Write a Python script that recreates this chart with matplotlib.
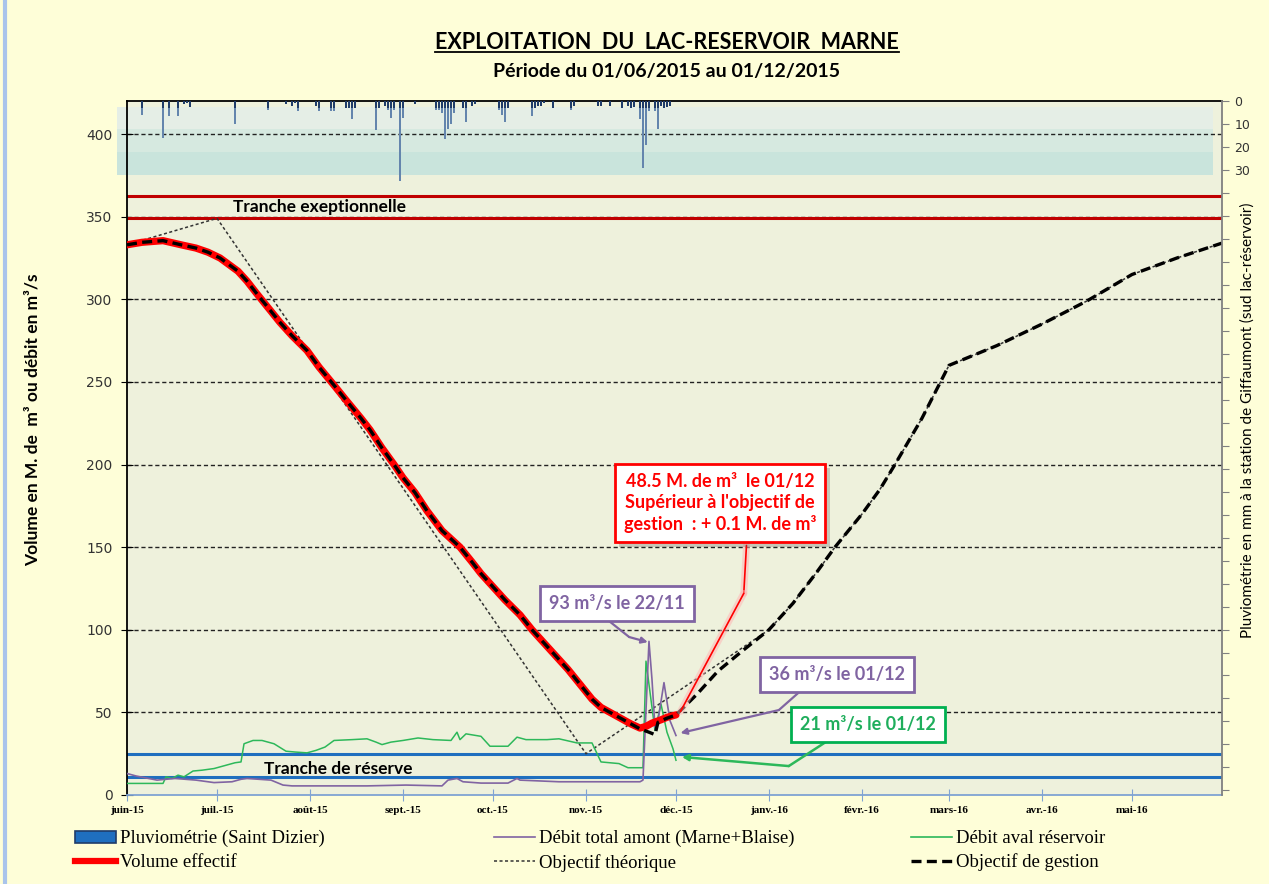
import numpy as np
import pandas as pd
import matplotlib
matplotlib.use("Agg")
import matplotlib.pyplot as plt
import matplotlib.dates as mdates
import matplotlib.patheffects as pe
from matplotlib.lines import Line2D
from matplotlib.patches import Patch, Rectangle
from matplotlib.transforms import blended_transform_factory

DEBUT = pd.Timestamp("2015-06-01")
FIN = pd.Timestamp("2016-05-31")

# ---- données (jours comptés depuis le 01/06/2015) ----
# pluviométrie journalière (mm)
pluie_jour = [5, 12, 14, 17, 19, 20, 21, 36, 47, 53, 55, 56, 57, 63, 64, 68, 69,
              73, 74, 75, 76, 83, 84, 86, 87, 88, 89, 91, 92, 96, 103, 104, 105,
              106, 107, 108, 109, 112, 113, 115, 116, 124, 125, 126, 127, 135,
              136, 137, 138, 139, 142, 148, 149, 157, 158, 161, 165, 167, 168,
              169, 171, 172, 173, 174, 176, 177, 178, 179, 180, 181]
pluie_mm = [6, 16, 6.5, 6.5, 1.5, 1, 2.5, 10, 4, 1.5, 2, 1, 4.5, 2, 4.5, 4.5, 4.5,
            3, 3, 8, 3, 12.5, 3, 2, 4, 7.5, 4, 35, 7.5, 1.5, 4, 4, 5,
            16.5, 12, 10, 5, 3, 9, 2, 1.5, 4, 6, 9, 3, 6.5,
            3, 2, 2, 1, 3, 4, 2, 2, 2, 2, 3, 2, 3,
            2.5, 8, 29, 19, 4.5, 4.5, 12, 2, 3, 2.5, 2]

# volume effectif (M. de m3)
vol_jour = [0, 5, 12, 18, 23, 27, 31, 34, 37, 40, 43, 47, 51, 55, 60, 64, 69, 73,
            78, 81, 85, 89, 92, 96, 100, 105, 108, 111, 115, 118, 122, 126, 131,
            135, 139, 143, 147, 151, 155, 158, 161, 164, 168, 171, 173, 175, 178,
            180, 183]
vol_val = [333, 334.5, 335.5, 333, 331, 328.5, 325, 321, 317, 311, 304, 295, 286,
           278, 269, 259, 248, 239, 228, 221, 210, 200, 192, 183, 172, 160, 155,
           150, 141, 134, 126, 118, 109, 100, 92, 84, 76, 67, 58, 53, 50, 47, 43,
           40.5, 41.5, 43.5, 45.5, 47, 48.5]

# objectif de gestion
gest_jour = [0, 5, 12, 18, 23, 27, 31, 34, 37, 40, 43, 47, 51, 55, 60, 64, 69, 73,
             78, 81, 85, 89, 92, 96, 100, 105, 108, 111, 115, 118, 122, 126, 131,
             135, 139, 143, 147, 151, 155, 158, 161, 164, 168, 171, 174, 176, 177,
             180, 183, 190, 197, 205, 214, 222, 230, 236, 245, 251, 256, 265, 274,
             290, 305, 320, 335, 350, 365]
gest_val = [333, 334.5, 335.5, 333, 331, 328.5, 325, 321, 317, 311, 304, 295, 286,
            278, 269, 259, 248, 239, 228, 221, 210, 200, 192, 183, 172, 160, 155,
            150, 141, 134, 126, 118, 109, 100, 92, 84, 76, 67, 58, 53, 50, 47, 43,
            40, 38, 36.5, 44, 46.5, 48.4, 61, 75, 87, 100, 116, 135, 150, 170, 185,
            200, 228, 260, 272, 285, 299, 315, 325, 334]

# objectif théorique
theo_jour = [0, 30, 153, 214, 222, 230, 236, 245, 251, 256, 265, 274, 290, 305,
             320, 335, 350, 365]
theo_val = [333, 349, 25, 100, 116, 135, 150, 170, 185, 200, 228, 260, 272, 285,
            299, 315, 325, 334]

# débit total amont (m3/s)
amont_jour = [0, 3, 10, 16, 23, 29, 35, 38, 40, 48, 52, 55, 80, 93, 105, 107, 110,
              112, 118, 127, 130, 131, 144, 171, 172, 174, 175, 176, 177, 179,
              181, 183]
amont_val = [13, 11.5, 9, 10, 9, 7.5, 8, 9.5, 10, 9, 6, 5.5, 5.5, 6, 5.5, 9, 10,
             8, 7.2, 7.2, 10, 9, 8, 8, 9, 93, 70, 41, 45, 68, 45, 36]

# débit aval réservoir (m3/s)
aval_jour = [0, 12, 13, 15, 17, 19, 22, 25, 29, 33, 36, 38, 39, 42, 45, 49, 53,
             56, 60, 63, 66, 69, 75, 80, 83, 85, 88, 92, 97, 102, 108, 110, 111,
             113, 118, 121, 127, 130, 133, 140, 144, 150, 155, 158, 164, 167,
             172, 173, 175, 176, 178, 180, 182, 183]
aval_val = [7, 7, 11, 10, 12, 11, 14.5, 15, 16, 18, 19.5, 20, 31, 33, 33, 31,
            26.5, 26, 25.5, 27, 29, 33, 33.5, 34, 32, 30.5, 32, 33, 34.5, 33.5,
            33, 38, 33.5, 37, 35.5, 29.5, 29.5, 35, 33.5, 33.5, 34, 31.5, 31.5,
            20, 19, 16.5, 16.5, 81, 53, 39, 55, 38, 28, 21]

# seuils
tranche_exc = [362.5, 349.5]
tranche_res = [25, 11]

mois_labels = ["juin-15", "juil.-15", "août-15", "sept.-15", "oct.-15", "nov.-15",
               "déc.-15", "janv.-16", "févr.-16", "mars-16", "avr.-16", "mai-16"]


def to_x(jours):
    return mdates.date2num(DEBUT) + np.asarray(jours, dtype=float)


FOND_FIG = "#fefed8"
FOND_AX = "#eef1dc"
VIOLET = "#8064a2"
VERT = "#2db85a"
BLEU = "#1f6fbf"
ROUGE_SEUIL = "#c00000"
SANS = ["Lato", "DejaVu Sans"]
SERIF = ["Liberation Serif", "DejaVu Serif"]

fig = plt.figure(figsize=(12.69, 8.84), dpi=100, facecolor=FOND_FIG)
ax = fig.add_axes([0.1001, 0.1007, 0.8628, 0.7850], facecolor=FOND_AX)
ax2 = ax.twinx()

ax.set_xlim(mdates.date2num(DEBUT), mdates.date2num(FIN))
ax.set_ylim(0, 420)
ax2.set_ylim(302, 0)

# bandes de fond de la zone pluvio
trans = blended_transform_factory(ax.transAxes, ax.transData)
for y0, y1, c in [(375, 389, "#c9e4dc"), (389.3, 403, "#d6e9e0"), (403, 416.3, "#e5eee6")]:
    ax.add_patch(Rectangle((-0.009, y0), 1.001, y1 - y0, transform=trans,
                           facecolor=c, edgecolor="none", clip_on=False, zorder=0))

# grille
for g in range(50, 401, 50):
    ax.axhline(g, color="#222222", lw=1, ls=(0, (3, 2)), zorder=1)

# seuils
for v in tranche_exc:
    ax.axhline(v, color=ROUGE_SEUIL, lw=2.2, zorder=2)
for v in tranche_res:
    ax.axhline(v, color=BLEU, lw=2.2, zorder=2)

ax.text(to_x(64), 355.8, "Tranche exeptionnelle", fontsize=12.5, fontweight="bold",
        family=SANS, ha="center", va="center", zorder=3)
ax.text(to_x(70.5), 15.8, "Tranche de réserve", fontsize=12.5, fontweight="bold",
        family=SANS, ha="center", va="center", zorder=3)

# séries
ax.plot(to_x(theo_jour), theo_val, color="#333333", lw=1.1, ls=(0, (2, 1.6)), zorder=3)
ax.plot(to_x(aval_jour), aval_val, color=VERT, lw=1.1, zorder=3)
ax.plot(to_x(amont_jour), amont_val, color=VIOLET, lw=1.2, zorder=3)
ax.plot(to_x(vol_jour), vol_val, color="red", lw=5.2, solid_capstyle="round", zorder=4)
ax.plot(to_x(gest_jour), gest_val, color="black", lw=2.4, ls=(0, (3, 1.6)), zorder=5)

# pluviométrie (axe de droite inversé)
px = to_x(pluie_jour)
ax2.bar(px, pluie_mm, width=0.9, bottom=0, color="#6485ad", edgecolor="none",
        align="center", zorder=2)
ax2.bar(px, np.minimum(pluie_mm, 3), width=0.9, bottom=0, color="#1f3c69",
        edgecolor="none", align="center", zorder=3)

# axes
mois = pd.date_range("2015-06-01", "2016-05-01", freq="MS")
ax.set_xticks(mdates.date2num(mois))
ax.set_xticklabels(mois_labels, fontsize=8, fontweight="bold", family=SERIF)
ax.tick_params(axis="x", direction="inout", length=8, color="#7fa3d3", pad=4)
ax.set_yticks(range(0, 401, 50))
ax.tick_params(axis="y", direction="inout", length=9, color="black",
               labelsize=10, labelcolor="#333333", pad=6)
for lab in ax.get_yticklabels():
    lab.set_family("DejaVu Sans")

ax2.set_yticks(range(0, 301, 10))
ax2.set_yticklabels([str(t) if t <= 30 else "" for t in range(0, 301, 10)],
                    fontsize=9, color="#333333")
ax2.tick_params(axis="y", direction="out", length=5, color="#808080", pad=4)

for s in ["left", "top"]:
    ax.spines[s].set_color("black")
    ax.spines[s].set_linewidth(1.3)
ax.spines["bottom"].set_color("#7fa3d3")
ax.spines["bottom"].set_linewidth(1.3)
ax.spines["right"].set_visible(False)
for s in ["left", "top", "bottom"]:
    ax2.spines[s].set_visible(False)
ax2.spines["right"].set_color("#808080")
ax2.spines["right"].set_linewidth(1.3)

fig.text(0.026, 0.525, "Volume en M. de  m³ ou débit en m³/s", rotation=90,
         fontsize=12.5, fontweight="bold", family=SANS, ha="center", va="center")
fig.text(0.983, 0.525, "Pluviométrie en mm à la station de Giffaumont (sud lac-réservoir)",
         rotation=90, fontsize=11, family=SANS, ha="center", va="center")

# annotations
def boite(txt, jour, val, couleur, tcouleur, fs=13):
    t = ax.text(to_x(jour), val, txt, ha="center", va="center", fontsize=fs,
                fontweight="bold", family=SANS, color=tcouleur, zorder=8,
                linespacing=1.3,
                bbox=dict(boxstyle="square,pad=0.5", fc="white", ec=couleur, lw=2))
    return t


def trait(j1, v1, j2, v2, couleur, fleche=False, lw=1.6, glow=None):
    a = ax.annotate("", xy=(to_x(j2), v2), xytext=(to_x(j1), v1),
                    arrowprops=dict(arrowstyle="-|>" if fleche else "-",
                                    color=couleur, lw=lw, mutation_scale=9,
                                    shrinkA=0, shrinkB=0), zorder=7)
    if glow:
        a.arrow_patch.set_path_effects([pe.Stroke(linewidth=5, foreground=glow, alpha=0.5),
                                        pe.Normal()])


trait(206.5, 151, 205.6, 122, "red", lw=1.2, glow="#ffb3b3")
trait(205.6, 122, 184.5, 50.5, "red", lw=1.2, glow="#ffb3b3")
t_rouge = boite("48.5 M. de m³  le 01/12\nSupérieur à l'objectif de\ngestion  : + 0.1 M. de m³",
                197.7, 176.7, "red", "red")
t_rouge.get_bbox_patch().set_path_effects([pe.SimplePatchShadow(offset=(3, -3), alpha=0.25),
                                           pe.Normal()])

trait(159.5, 107, 167.4, 95.6, VIOLET)
trait(167.4, 95.6, 173.6, 92.5, VIOLET, fleche=True)
boite("93 m³/s le 22/11", 163.4, 116, VIOLET, VIOLET)

trait(225.6, 64.7, 217.3, 51.4, VIOLET)
trait(217.3, 51.4, 184.5, 37.5, VIOLET, fleche=True)
boite("36 m³/s le 01/12", 236.6, 73, VIOLET, VIOLET)

trait(234, 33.3, 220.6, 17.5, VERT, lw=1.8)
trait(220.6, 17.5, 185, 23, VERT, fleche=True, lw=1.8)
boite("21 m³/s le 01/12", 247, 42.4, "#00b050", "#1fae5c")

# titre
titre = fig.text(0.5256, 0.952, "EXPLOITATION  DU  LAC-RESERVOIR  MARNE", fontsize=15.5,
                 fontweight="bold", family=SANS, ha="center", va="center")
fig.text(0.5256, 0.919, "Période du 01/06/2015 au 01/12/2015", fontsize=14,
         fontweight="bold", family=SANS, ha="center", va="center")
fig.canvas.draw()
bb = titre.get_window_extent().transformed(fig.transFigure.inverted())
fig.add_artist(Line2D([bb.x0, bb.x1], [bb.y0 + 0.001, bb.y0 + 0.001], color="black", lw=1.3))

# bordure bleue à gauche
fig.add_artist(Line2D([0.004, 0.004], [0, 1], color="#a9c4eb", lw=3))

# légende
h_pluie = Patch(facecolor=BLEU, edgecolor="#1f3c69", lw=1.2)
h_vol = Line2D([], [], color="red", lw=4.5)
h_amont = Line2D([], [], color=VIOLET, lw=1.2)
h_theo = Line2D([], [], color="#333333", lw=1.1, ls=(0, (2, 1.6)))
h_aval = Line2D([], [], color=VERT, lw=1.2)
h_gest = Line2D([], [], color="black", lw=2.4, ls=(0, (3, 1.6)))

for hs, labs, x0 in [([h_pluie, h_vol], ["Pluviométrie (Saint Dizier)", "Volume effectif"], 75),
                     ([h_amont, h_theo], ["Débit total amont (Marne+Blaise)", "Objectif théorique"], 494),
                     ([h_aval, h_gest], ["Débit aval réservoir", "Objectif de gestion"], 911)]:
    fig.legend(hs, labs, loc="upper left", bbox_to_anchor=(x0 / 1269, 1 - 830 / 884),
               frameon=False, borderpad=0, borderaxespad=0, handlelength=2.2,
               handleheight=0.6, handletextpad=0.2, labelspacing=0.35,
               prop=dict(family=SERIF, size=13.5))

fig.savefig("out.png", dpi=100, facecolor=FOND_FIG)
